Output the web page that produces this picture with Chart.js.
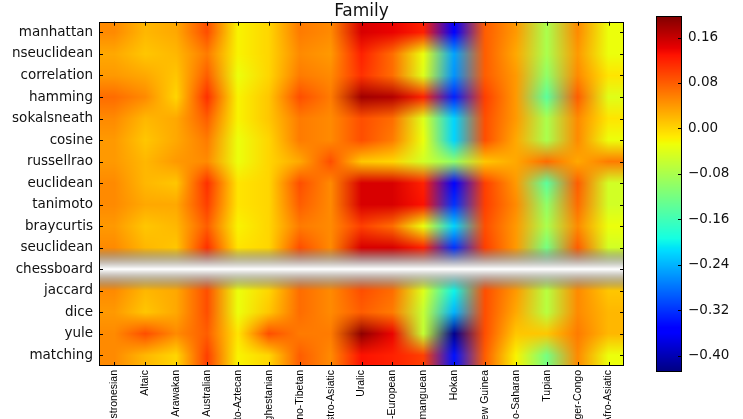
<!DOCTYPE html>
<html>
<head>
<meta charset="utf-8">
<title>Family</title>
<script src="https://cdn.jsdelivr.net/npm/chart.js@4.4.1/dist/chart.umd.min.js"></script>
<style>
    html, body { margin: 0; padding: 0; background: #fff; overflow: hidden; }
    #wrap { position: relative; width: 743px; height: 419px; }
    #wrap canvas { position: absolute; left: 0; top: 0; }
</style>
</head>
<body>
<div id="wrap">
    <canvas id="heat" width="743" height="419"></canvas>
    <canvas id="cbar" width="743" height="419"></canvas>
</div>
<script>
// 列：语系
const familyLabels = [
    'Austronesian', 'Altaic', 'Arawakan', 'Australian', 'Uto-Aztecan', 'Daghestanian',
    'Sino-Tibetan', 'Austro-Asiatic', 'Uralic', 'Indo-European', 'Otomanguean', 'Hokan',
    'New Guinea', 'Nilo-Saharan', 'Tupian', 'Niger-Congo', 'Afro-Asiatic',
];

// 行：距离度量
const metricLabels = [
    'manhattan', 'nseuclidean', 'correlation', 'hamming', 'sokalsneath', 'cosine',
    'russellrao', 'euclidean', 'tanimoto', 'braycurtis', 'seuclidean', 'chessboard',
    'jaccard', 'dice', 'yule', 'matching',
];

// 每行的数值（顺序同 familyLabels）
const manhattan   = [0.05, 0.02, 0.03, 0.09, -0.02, 0.00, 0.06, 0.05, 0.15, 0.14, 0.12, -0.35, 0.08, 0.04, -0.08, 0.05, -0.03];
const nseuclidean = [0.03, 0.01, 0.02, 0.06, -0.02, 0.00, 0.05, 0.04, 0.12, 0.07, -0.03, -0.25, 0.08, 0.03, -0.08, 0.04, -0.03];
const correlation = [0.04, 0.03, 0.01, 0.08, -0.03, 0.00, 0.06, 0.05, 0.11, 0.07, -0.04, -0.26, 0.08, 0.04, -0.10, 0.05, -0.01];
const hamming     = [0.07, 0.05, 0.00, 0.11, -0.02, 0.01, 0.09, 0.06, 0.18, 0.17, 0.12, -0.33, 0.10, 0.04, -0.14, 0.08, -0.04];
const sokalsneath = [0.05, 0.02, 0.03, 0.08, -0.02, 0.01, 0.06, 0.05, 0.09, 0.07, -0.04, -0.22, 0.09, 0.04, -0.08, 0.05, -0.01];
const cosine      = [0.04, 0.01, 0.03, 0.06, -0.03, 0.00, 0.06, 0.05, 0.09, 0.06, -0.03, -0.22, 0.09, 0.03, -0.08, 0.05, -0.03];
const russellrao  = [0.04, 0.02, 0.04, 0.05, -0.03, 0.00, 0.03, 0.09, 0.01, 0.00, -0.05, -0.10, 0.01, 0.03, 0.07, 0.03, 0.06];
const euclidean   = [0.05, 0.02, 0.01, 0.11, -0.01, 0.00, 0.09, 0.05, 0.15, 0.15, 0.12, -0.35, 0.10, 0.04, -0.14, 0.08, -0.05];
const tanimoto    = [0.05, 0.03, 0.03, 0.10, -0.01, 0.00, 0.08, 0.05, 0.15, 0.15, 0.13, -0.32, 0.10, 0.05, -0.10, 0.07, -0.05];
const braycurtis  = [0.04, 0.01, 0.02, 0.08, -0.02, 0.00, 0.06, 0.05, 0.10, 0.07, -0.03, -0.22, 0.09, 0.04, -0.08, 0.05, -0.03];
const seuclidean  = [0.05, 0.02, 0.01, 0.11, -0.01, 0.00, 0.09, 0.05, 0.15, 0.15, 0.12, -0.32, 0.10, 0.04, -0.12, 0.08, -0.05];
const chessboard  = [null, null, null, null, null, null, null, null, null, null, null, null, null, null, null, null, null];
const jaccard     = [0.05, 0.02, 0.03, 0.09, -0.03, 0.00, 0.07, 0.05, 0.09, 0.07, -0.04, -0.20, 0.09, 0.04, -0.07, 0.05, 0.01];
const dice        = [0.04, 0.01, 0.03, 0.09, -0.03, 0.01, 0.07, 0.05, 0.08, 0.06, -0.06, -0.24, 0.09, 0.03, -0.07, 0.05, 0.02];
const yule        = [0.05, 0.09, 0.05, 0.08, -0.01, 0.09, 0.06, 0.06, 0.19, 0.14, -0.06, -0.42, 0.09, 0.01, 0.01, 0.06, 0.02];
const matching    = [0.05, 0.02, 0.00, 0.10, -0.02, 0.00, 0.08, 0.05, 0.13, 0.12, 0.10, -0.34, 0.08, -0.02, -0.12, 0.05, -0.03];

const grid = [
    manhattan, nseuclidean, correlation, hamming, sokalsneath, cosine, russellrao, euclidean,
    tanimoto, braycurtis, seuclidean, chessboard, jaccard, dice, yule, matching,
];

// 色标
const colorMin = -0.429;
const colorMax = 0.198;
const colorTicks = [-0.40, -0.32, -0.24, -0.16, -0.08, 0.00, 0.08, 0.16];

/**
 * jet 色图（matplotlib 分段定义）
 */
const jetR = [[0, 0], [0.35, 0], [0.66, 1], [0.89, 1], [1, 0.5]];
const jetG = [[0, 0], [0.125, 0], [0.375, 1], [0.64, 1], [0.91, 0], [1, 0]];
const jetB = [[0, 0.5], [0.11, 1], [0.34, 1], [0.65, 0], [1, 0]];

function segment(seg, t) {
    for (let k = 1; k < seg.length; k++) {
        if (t <= seg[k][0]) {
            const [x0, y0] = seg[k - 1];
            const [x1, y1] = seg[k];
            return y0 + (y1 - y0) * (t - x0) / (x1 - x0);
        }
    }
    return seg[seg.length - 1][1];
}

function jetColor(v) {
    let t = (v - colorMin) / (colorMax - colorMin);
    t = Math.min(Math.max(t, 0), 1);
    return [segment(jetR, t) * 255, segment(jetG, t) * 255, segment(jetB, t) * 255, 1];
}

// 像素 -> 相邻两格及插值比例
function cellPos(u, n) {
    u = Math.min(Math.max(u, 0), n - 1);
    const i0 = Math.floor(u);
    const i1 = Math.min(i0 + 1, n - 1);
    return [i0, i1, u - i0];
}

Chart.defaults.font.family = "'DejaVu Sans', sans-serif";
Chart.defaults.color = '#111';

/**
 * 热力图：RGBA 双线性插值（缺失值为透明黑，和旧版 matplotlib 一样）
 */
const heatmapPlugin = {
    id: 'heatmap',
    beforeDatasetsDraw(chart) {
        const { ctx, chartArea: area, scales } = chart;
        const left = Math.round(area.left);
        const top = Math.round(area.top);
        const w = Math.round(area.right) - left;
        const h = Math.round(area.bottom) - top;
        const nCols = familyLabels.length;
        const nRows = metricLabels.length;
        const rgba = grid.map(row => row.map(v => (v === null ? [0, 0, 0, 0] : jetColor(v))));

        const xs = [];
        const ys = [];
        for (let px = 0; px < w; px++) {
            xs.push(cellPos(scales.x.getValueForPixel(left + px + 0.5), nCols));
        }
        for (let py = 0; py < h; py++) {
            ys.push(cellPos(scales.y.getValueForPixel(top + py + 0.5), nRows));
        }

        const img = ctx.createImageData(w, h);
        const d = img.data;
        for (let py = 0; py < h; py++) {
            const [r0, r1, fy] = ys[py];
            for (let px = 0; px < w; px++) {
                const [c0, c1, fx] = xs[px];
                const a = rgba[r0][c0], b = rgba[r0][c1], c = rgba[r1][c0], e = rgba[r1][c1];
                const out = [0, 0, 0, 0];
                for (let k = 0; k < 4; k++) {
                    const top1 = a[k] + (b[k] - a[k]) * fx;
                    const bot1 = c[k] + (e[k] - c[k]) * fx;
                    out[k] = top1 + (bot1 - top1) * fy;
                }
                const alpha = out[3];
                const p = (py * w + px) * 4;
                d[p] = out[0] * alpha + 255 * (1 - alpha);
                d[p + 1] = out[1] * alpha + 255 * (1 - alpha);
                d[p + 2] = out[2] * alpha + 255 * (1 - alpha);
                d[p + 3] = 255;
            }
        }
        ctx.putImageData(img, left, top);
    },
    afterDatasetsDraw(chart) {
        const { ctx, chartArea: a, scales } = chart;
        ctx.save();
        ctx.strokeStyle = '#000';
        ctx.lineWidth = 1;
        ctx.beginPath();
        // 刻度线（朝内）
        familyLabels.forEach((_, j) => {
            const x = Math.round(scales.x.getPixelForValue(j)) + 0.5;
            ctx.moveTo(x, a.top); ctx.lineTo(x, a.top + 4);
            ctx.moveTo(x, a.bottom); ctx.lineTo(x, a.bottom - 4);
        });
        metricLabels.forEach((_, i) => {
            const y = Math.round(scales.y.getPixelForValue(i)) + 0.5;
            ctx.moveTo(a.left, y); ctx.lineTo(a.left + 4, y);
            ctx.moveTo(a.right, y); ctx.lineTo(a.right - 4, y);
        });
        ctx.stroke();
        ctx.strokeRect(Math.round(a.left) + 0.5, Math.round(a.top) + 0.5,
            Math.round(a.right - a.left) - 1, Math.round(a.bottom - a.top) - 1);
        ctx.restore();
    },
};

// 散点只用来登记数据，不显示
const cells = [];
grid.forEach((row, i) => row.forEach((v, j) => {
    if (v !== null) {cells.push({ x: j, y: i, v });}
}));

new Chart(document.getElementById('heat'), {
    type: 'scatter',
    data: { datasets: [{ data: cells, pointRadius: 0, pointHoverRadius: 0 }] },
    options: {
        responsive: false,
        animation: false,
        events: [],
        layout: { padding: { left: 0, right: 119, top: 0, bottom: 0 } },
        plugins: {
            legend: { display: false },
            tooltip: { enabled: false },
            title: {
                display: true,
                text: 'Family',
                fullSize: false,
                color: '#111',
                font: { size: 17, weight: 'normal', lineHeight: 1.1 },
                padding: { top: 2, bottom: 1 },
            },
        },
        scales: {
            x: {
                type: 'linear',
                min: -0.5,
                max: 16.5,
                afterBuildTicks: s => { s.ticks = familyLabels.map((_, j) => ({ value: j })); },
                afterFit: s => { s.height = 53; },
                grid: { display: false, drawTicks: false },
                border: { display: false },
                ticks: {
                    autoSkip: false,
                    minRotation: 90,
                    maxRotation: 90,
                    padding: 4,
                    color: '#000',
                    font: { family: "'Liberation Sans', sans-serif", size: 10.5 },
                    callback: v => familyLabels[v],
                },
            },
            y: {
                type: 'linear',
                reverse: true,
                min: -0.5,
                max: 15.5,
                afterBuildTicks: s => { s.ticks = metricLabels.map((_, i) => ({ value: i })); },
                afterFit: s => { s.width = 99; },
                grid: { display: false, drawTicks: false },
                border: { display: false },
                ticks: {
                    autoSkip: false,
                    padding: 6,
                    font: { size: 13.5 },
                    callback: v => metricLabels[v],
                },
            },
        },
    },
    plugins: [heatmapPlugin],
});

/**
 * 色标条
 */
const colorbarPlugin = {
    id: 'colorbar',
    beforeDatasetsDraw(chart) {
        const { ctx, chartArea: a, scales } = chart;
        const top = Math.round(a.top);
        const bottom = Math.round(a.bottom);
        const left = Math.round(a.left);
        const w = Math.round(a.right) - left;
        for (let py = top; py < bottom; py++) {
            const c = jetColor(scales.y.getValueForPixel(py + 0.5));
            ctx.fillStyle = `rgb(${c[0]},${c[1]},${c[2]})`;
            ctx.fillRect(left, py, w, 1);
        }
        ctx.save();
        ctx.strokeStyle = '#000';
        ctx.lineWidth = 1;
        ctx.beginPath();
        colorTicks.forEach(t => {
            const y = Math.round(scales.y.getPixelForValue(t)) + 0.5;
            ctx.moveTo(left + w, y); ctx.lineTo(left + w - 4, y);
        });
        ctx.stroke();
        ctx.strokeRect(left + 0.5, top + 0.5, w - 1, bottom - top - 1);
        ctx.restore();
    },
};

new Chart(document.getElementById('cbar'), {
    type: 'scatter',
    data: { datasets: [] },
    options: {
        responsive: false,
        animation: false,
        events: [],
        layout: { padding: { left: 656, right: 0, top: 16, bottom: 47 } },
        plugins: { legend: { display: false }, tooltip: { enabled: false } },
        scales: {
            x: { display: false, min: 0, max: 1 },
            y: {
                type: 'linear',
                position: 'right',
                min: colorMin,
                max: colorMax,
                afterBuildTicks: s => { s.ticks = colorTicks.map(t => ({ value: t })); },
                afterFit: s => { s.width = 61; },
                grid: { display: false, drawTicks: false },
                border: { display: false },
                ticks: {
                    padding: 6,
                    font: { size: 13.5 },
                    callback: v => (v < 0 ? '\u2212' + Math.abs(v).toFixed(2) : v.toFixed(2)),
                },
            },
        },
    },
    plugins: [colorbarPlugin],
});
</script>
</body>
</html>
